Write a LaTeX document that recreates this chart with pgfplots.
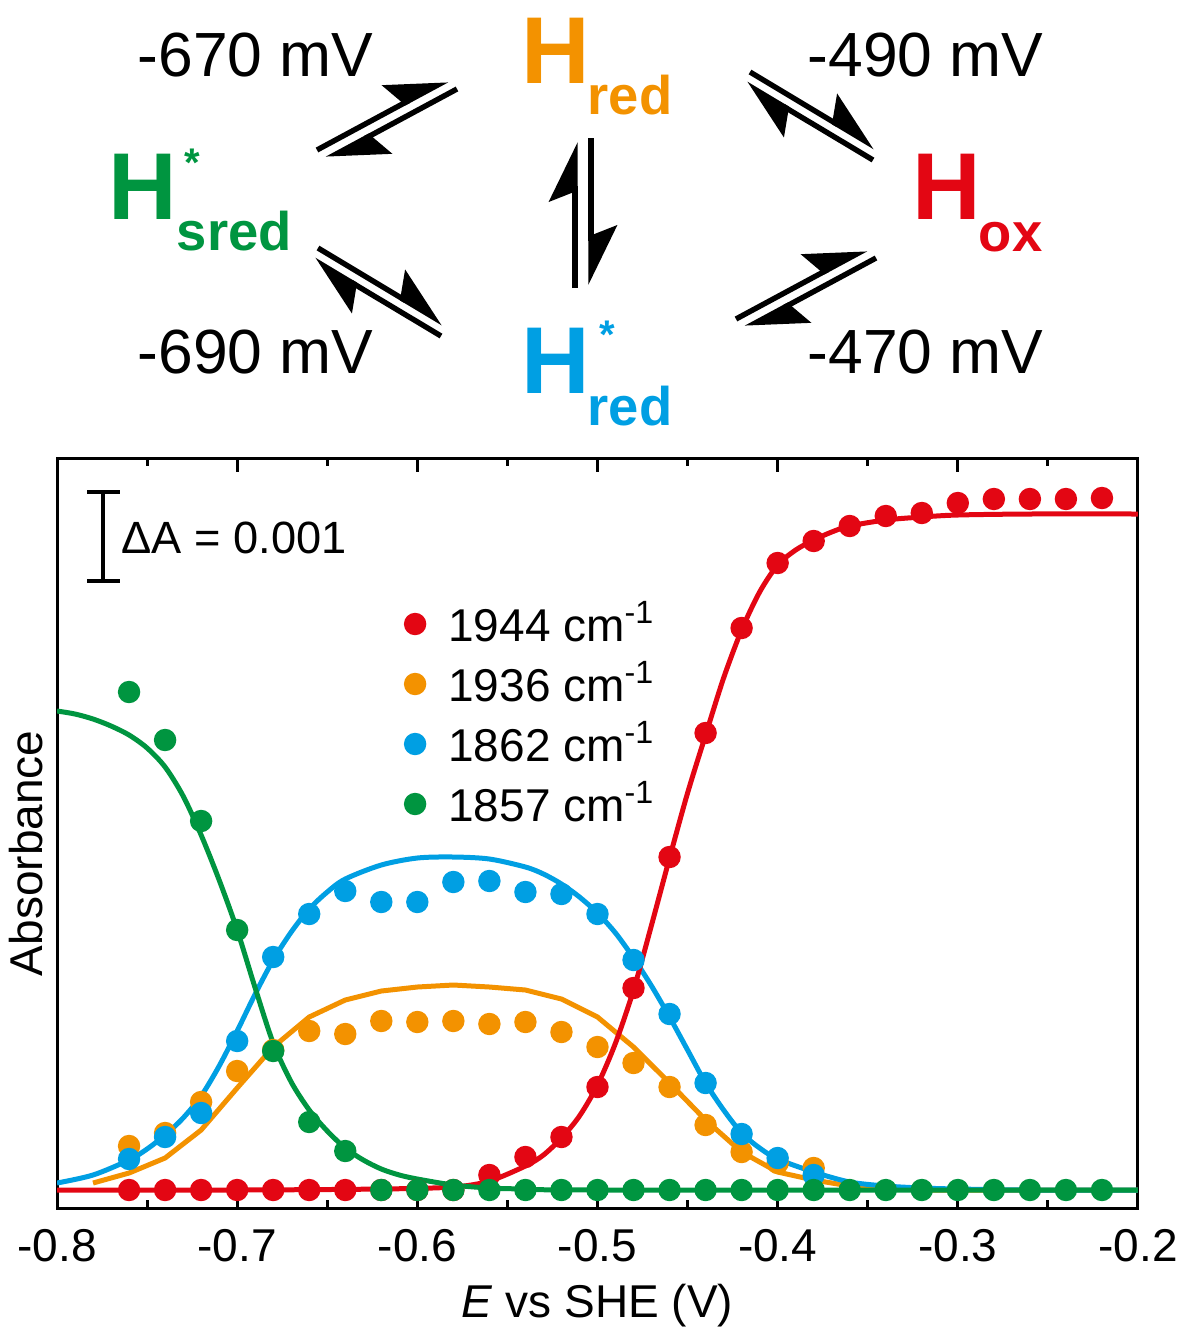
\documentclass[border=0pt]{standalone}
\usepackage{fontspec}
\setmainfont{Liberation Sans}
\usepackage{pgfplots}
\pgfplotsset{compat=1.18}
\usetikzlibrary{arrows.meta}
\definecolor{cred}{HTML}{E30613}
\definecolor{corange}{HTML}{F39200}
\definecolor{cblue}{HTML}{009FE3}
\definecolor{cgreen}{HTML}{009540}
\newcommand{\fs}[1]{\fontsize{#1pt}{#1pt}\selectfont}
\pgfplotsset{dotlegend/.style={legend image code/.code={\draw[##1] plot coordinates {(0pt,0pt)};}}}
\begin{document}
\begin{tikzpicture}
\useasboundingbox (0,0) rectangle (294.75pt,-332.25pt);
\begin{axis}[
  at={(14.25pt,-302pt)}, anchor=south west,
  scale only axis, width=270.25pt, height=187.5pt,
  xmin=-0.8, xmax=-0.2, ymin=-1208, ymax=-458,
  axis line style={line width=0.75pt},
  every tick/.style={line width=0.75pt, black},
  tick align=inside,
  major tick length=3.5pt, minor tick length=2pt,
  xtick={-0.8,-0.7,-0.6,-0.5,-0.4,-0.3,-0.2},
  xticklabels={-0.8,-0.7,-0.6,-0.5,-0.4,-0.3,-0.2},
  minor xtick={-0.75,-0.65,-0.55,-0.45,-0.35,-0.25},
  ytick=\empty,
  xticklabel style={font=\fs{11.5}, yshift=-1.75pt},
  xlabel={\textit{E} vs SHE (V)},
  xlabel style={font=\fs{11.5}, at={(axis description cs:0.5,0)}, anchor=base, yshift=-27.25pt},
  ylabel={Absorbance},
  ylabel style={font=\fs{11.5}, at={(axis description cs:-0.012,0.473)}, anchor=south, inner sep=0pt},
  legend style={at={(axis cs:-0.607,-607)}, anchor=north west, draw=none, fill=none,
    inner sep=0pt, outer sep=0pt, row sep=6.5pt, column sep=5.7pt, font=\fs{11.5},
    nodes={inner sep=0pt, text height=8.5pt, text depth=0pt}},
  legend cell align=left,
]
% fitted lines
\addplot[forget plot, corange, line width=1.25pt] coordinates {
(-0.78,-1183) (-0.76,-1173) (-0.74,-1158) (-0.72,-1130) (-0.70,-1088) (-0.68,-1047)
(-0.66,-1017) (-0.64,-1000) (-0.62,-991) (-0.60,-987) (-0.58,-985) (-0.56,-987)
(-0.54,-990) (-0.52,-999) (-0.50,-1017) (-0.48,-1047) (-0.46,-1083) (-0.44,-1120)
(-0.42,-1152) (-0.40,-1172) (-0.38,-1180) (-0.36,-1186) (-0.34,-1188) (-0.32,-1190) (-0.20,-1190)};
\addplot[forget plot, cblue, line width=1.25pt, smooth] coordinates {
(-0.80,-1183) (-0.78,-1175) (-0.76,-1160) (-0.75,-1149) (-0.74,-1135) (-0.73,-1118)
(-0.72,-1096) (-0.71,-1066) (-0.70,-1031) (-0.69,-994) (-0.68,-960) (-0.67,-932)
(-0.66,-909) (-0.65,-892) (-0.64,-879) (-0.62,-865) (-0.60,-858) (-0.58,-857)
(-0.56,-859) (-0.54,-867) (-0.53,-874) (-0.52,-884) (-0.51,-897) (-0.50,-913)
(-0.49,-933) (-0.48,-958) (-0.47,-986) (-0.46,-1017) (-0.45,-1050) (-0.44,-1083)
(-0.43,-1110) (-0.42,-1133) (-0.41,-1148) (-0.40,-1159) (-0.38,-1172) (-0.36,-1182)
(-0.34,-1186) (-0.32,-1188) (-0.30,-1189) (-0.26,-1190) (-0.20,-1190)};
\addplot[forget plot, cred, line width=1.25pt, smooth] coordinates {
(-0.80,-1190) (-0.70,-1190) (-0.62,-1189) (-0.58,-1187) (-0.56,-1181) (-0.54,-1166)
(-0.53,-1155) (-0.52,-1138) (-0.51,-1116) (-0.50,-1085) (-0.49,-1043) (-0.48,-990)
(-0.47,-925) (-0.46,-858) (-0.45,-793) (-0.44,-735) (-0.43,-678) (-0.42,-630)
(-0.41,-592) (-0.40,-565) (-0.39,-550) (-0.38,-540) (-0.37,-532) (-0.36,-526)
(-0.34,-520) (-0.32,-517) (-0.30,-515) (-0.26,-514) (-0.20,-514)};
\addplot[forget plot, cgreen, line width=1.25pt, smooth] coordinates {
(-0.80,-711) (-0.79,-714) (-0.78,-719) (-0.77,-726) (-0.76,-735) (-0.75,-748)
(-0.74,-767) (-0.73,-796) (-0.72,-835) (-0.71,-880) (-0.70,-930) (-0.69,-988)
(-0.68,-1043) (-0.67,-1082) (-0.66,-1110) (-0.65,-1131) (-0.64,-1148) (-0.63,-1160)
(-0.62,-1169) (-0.61,-1175) (-0.60,-1179) (-0.58,-1185) (-0.56,-1188) (-0.54,-1189)
(-0.50,-1190) (-0.20,-1190)};
% data points
\addplot[only marks, mark=*, mark size=2.6pt, mark options={fill=cred, draw=none}, color=cred, dotlegend] coordinates {
(-0.76,-1190) (-0.74,-1190) (-0.72,-1190) (-0.70,-1190) (-0.68,-1190) (-0.66,-1190)
(-0.64,-1190) (-0.62,-1190) (-0.60,-1190) (-0.58,-1190) (-0.56,-1175) (-0.54,-1157)
(-0.52,-1137) (-0.50,-1087) (-0.48,-988) (-0.46,-857) (-0.44,-733) (-0.42,-628)
(-0.40,-563) (-0.38,-541) (-0.36,-526) (-0.34,-516) (-0.32,-513) (-0.30,-503)
(-0.28,-499) (-0.26,-499) (-0.24,-499) (-0.22,-498)};
\addlegendentry{1944 cm\textsuperscript{-1}}
\addplot[only marks, mark=*, mark size=2.6pt, mark options={fill=corange, draw=none}, color=corange, dotlegend] coordinates {
(-0.76,-1146) (-0.74,-1133) (-0.72,-1102) (-0.70,-1071) (-0.68,-1050) (-0.66,-1031)
(-0.64,-1034) (-0.62,-1021) (-0.60,-1022) (-0.58,-1021) (-0.56,-1024) (-0.54,-1022)
(-0.52,-1032) (-0.50,-1047) (-0.48,-1063) (-0.46,-1087) (-0.44,-1125) (-0.42,-1152)
(-0.40,-1163) (-0.38,-1168)};
\addlegendentry{1936 cm\textsuperscript{-1}}
\addplot[only marks, mark=*, mark size=2.6pt, mark options={fill=cblue, draw=none}, color=cblue, dotlegend] coordinates {
(-0.76,-1159) (-0.74,-1137) (-0.72,-1113) (-0.70,-1041) (-0.68,-957) (-0.66,-914)
(-0.64,-891) (-0.62,-902) (-0.60,-902) (-0.58,-882) (-0.56,-881) (-0.54,-892)
(-0.52,-894) (-0.50,-914) (-0.48,-960) (-0.46,-1014) (-0.44,-1083) (-0.42,-1134)
(-0.40,-1158) (-0.38,-1175)};
\addlegendentry{1862 cm\textsuperscript{-1}}
\addplot[only marks, mark=*, mark size=2.6pt, mark options={fill=cgreen, draw=none}, color=cgreen, dotlegend] coordinates {
(-0.76,-692) (-0.74,-740) (-0.72,-821) (-0.70,-930) (-0.68,-1051) (-0.66,-1122)
(-0.64,-1151) (-0.62,-1190) (-0.60,-1190) (-0.58,-1190) (-0.56,-1190) (-0.54,-1190)
(-0.52,-1190) (-0.50,-1190) (-0.48,-1190) (-0.46,-1190) (-0.44,-1190) (-0.42,-1190)
(-0.40,-1190) (-0.38,-1190) (-0.36,-1190) (-0.34,-1190) (-0.32,-1190) (-0.30,-1190)
(-0.28,-1190) (-0.26,-1190) (-0.24,-1190) (-0.22,-1190)};
\addlegendentry{1857 cm\textsuperscript{-1}}
\end{axis}
\begin{scope}[x=0.25pt, y=-0.25pt]
  % scale bar
  \draw[line width=1pt] (103,492) -- (103,581);
  \draw[line width=1pt] (87,492) -- (120,492);
  \draw[line width=1pt] (87,581) -- (120,581);
  \node[anchor=base west, inner sep=0pt, font=\fs{11.3}] at (121,553) {ΔA = 0.001};
  % potentials
  \node[anchor=base west, inner sep=0pt, font=\fs{15.6}] at (137,76) {-670 mV};
  \node[anchor=base west, inner sep=0pt, font=\fs{15.6}] at (807,76) {-490 mV};
  \node[anchor=base west, inner sep=0pt, font=\fs{15.6}] at (137,373) {-690 mV};
  \node[anchor=base west, inner sep=0pt, font=\fs{15.6}] at (807,373) {-470 mV};
  % species
  \node[anchor=base west, inner sep=0pt, font=\bfseries\fs{23.75}, text=corange] at (521,83) {H};
  \node[anchor=base west, inner sep=0pt, font=\bfseries\fs{13.6}, text=corange] at (587,114) {red};
  \node[anchor=base west, inner sep=0pt, font=\bfseries\fs{23.75}, text=cgreen] at (108,219) {H};
  \node[anchor=base west, inner sep=0pt, font=\bfseries\fs{13.6}, text=cgreen] at (176,250) {sred};
  \node[inner sep=0pt, font=\bfseries\fs{10}, text=cgreen] at (192,163) {*};
  \node[anchor=base west, inner sep=0pt, font=\bfseries\fs{23.75}, text=cred] at (912,219) {H};
  \node[anchor=base west, inner sep=0pt, font=\bfseries\fs{13.6}, text=cred] at (978,251) {ox};
  \node[anchor=base west, inner sep=0pt, font=\bfseries\fs{23.75}, text=cblue] at (521,393) {H};
  \node[anchor=base west, inner sep=0pt, font=\bfseries\fs{13.6}, text=cblue] at (587,425) {red};
  \node[inner sep=0pt, font=\bfseries\fs{10}, text=cblue] at (607,335) {*};
  % equilibrium harpoons
  \tikzset{hp/.style={line width=1.35pt, -{Stealth[harpoon, length=13.5pt, width=13pt, inset=2.5pt]}}}
  \draw[hp] (317,150) -- (447,80);
  \draw[hp] (457,89) -- (327,159);
  \draw[hp] (750,72) -- (875,147);
  \draw[hp] (873,160) -- (746,84);
  \draw[hp] (318,248) -- (443,323);
  \draw[hp] (441,336) -- (314,260);
  \draw[hp] (736,319) -- (866,249);
  \draw[hp] (876,258) -- (746,328);
  \draw[hp] (575,288) -- (575,142);
  \draw[hp] (591,138) -- (591,285);
\end{scope}
\end{tikzpicture}
\end{document}
